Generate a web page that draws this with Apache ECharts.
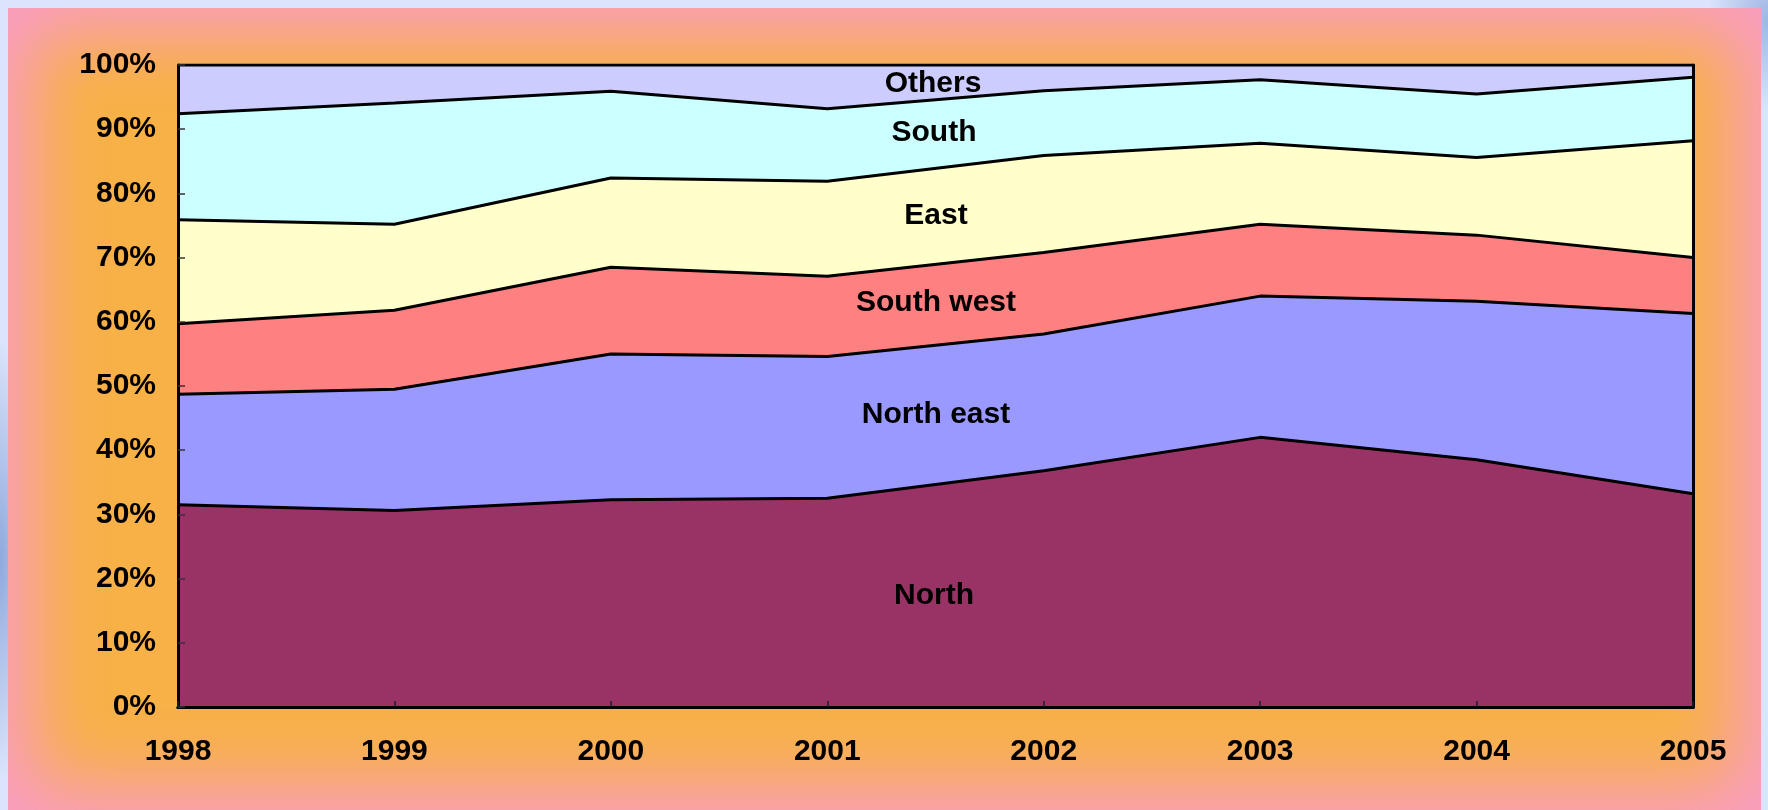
<!DOCTYPE html>
<html>
<head>
<meta charset="utf-8">
<title>Regional share 1998-2005</title>
<script src="https://cdn.jsdelivr.net/npm/echarts@6/dist/echarts.min.js"></script>
<style>
    html, body {
        margin: 0;
        padding: 0;
    }
    body {
        width: 1768px;
        height: 810px;
        overflow: hidden;
        position: relative;
        background:
            radial-gradient(ellipse 40px 220px at 0px 560px, #8fa9dc 0%, rgba(143,169,220,0) 100%),
            radial-gradient(ellipse 60px 90px at 1768px 20px, #9fb6e2 0%, rgba(159,182,226,0) 100%),
            #dbe4fb;
    }
    .frame {
        position: absolute;
        left: 8px;
        top: 8px;
        width: 1753px;
        height: 802px;
        background: #f7b147;
        box-shadow: inset 0 0 70px 24px #f99cc6;
    }
    .chart {
        position: absolute;
        left: 0;
        top: 0;
        width: 1768px;
        height: 810px;
    }
</style>
</head>
<body>
<div class="frame"></div>
<div class="chart" id="main"></div>
<script>
    // data, percent share of each region (stacks up to 100)
    var years = ['1998', '1999', '2000', '2001', '2002', '2003', '2004', '2005'];
    var north = [31.5, 30.6, 32.3, 32.5, 36.8, 42.0, 38.5, 33.2];
    var northEast = [17.2, 18.9, 22.7, 22.1, 21.3, 22.0, 24.7, 28.1];
    var southWest = [11.0, 12.3, 13.5, 12.5, 12.7, 11.2, 10.3, 8.7];
    var east = [16.2, 13.4, 13.9, 14.8, 15.1, 12.6, 12.1, 18.2];
    var south = [16.5, 18.9, 13.5, 11.3, 10.1, 9.9, 9.9, 9.9];
    var others = [7.6, 5.9, 4.1, 6.8, 4.0, 2.3, 4.5, 1.9];

    var fontFamily = '"Liberation Sans", Arial, sans-serif';

    var areaSeries = function (name, color, data) {
        return {
            name: name,
            type: 'line',
            stack: 'total',
            symbol: 'none',
            lineStyle: {
                color: '#000',
                width: 3
            },
            areaStyle: {
                color: color,
                opacity: 1
            },
            data: data
        };
    };

    // text written inside the bands
    var bandLabel = function (text, x, y) {
        return {
            type: 'text',
            z: 100,
            style: {
                text: text,
                x: x,
                y: y,
                fill: '#000',
                font: 'bold 30px ' + fontFamily,
                textAlign: 'center',
                textVerticalAlign: 'middle'
            }
        };
    };

    var chart = echarts.init(document.getElementById('main'));

    chart.setOption({
        backgroundColor: 'transparent',
        animation: false,
        grid: {
            left: 178,
            right: 75,
            top: 65,
            bottom: 103
        },
        xAxis: [
            {
                type: 'category',
                boundaryGap: false,
                data: years,
                z: 10,
                axisLine: {
                    lineStyle: {
                        color: '#000',
                        width: 3
                    }
                },
                axisTick: {
                    inside: true,
                    length: 6,
                    lineStyle: {
                        color: '#222',
                        width: 1.5
                    }
                },
                axisLabel: {
                    margin: 30,
                    color: '#000',
                    fontSize: 30,
                    fontWeight: 'bold',
                    fontFamily: fontFamily
                },
                splitLine: { show: false }
            },
            {
                // top border of the plot
                type: 'category',
                position: 'top',
                boundaryGap: false,
                data: years,
                z: 10,
                axisLine: {
                    lineStyle: {
                        color: '#000',
                        width: 3
                    }
                },
                axisTick: { show: false },
                axisLabel: { show: false }
            }
        ],
        yAxis: [
            {
                type: 'value',
                min: 0,
                max: 100,
                interval: 10,
                z: 10,
                axisLine: {
                    show: true,
                    lineStyle: {
                        color: '#000',
                        width: 3
                    }
                },
                axisTick: {
                    show: true,
                    inside: true,
                    length: 7,
                    lineStyle: {
                        color: '#333',
                        width: 1.5
                    }
                },
                axisLabel: {
                    margin: 22,
                    color: '#000',
                    fontSize: 30,
                    fontWeight: 'bold',
                    fontFamily: fontFamily,
                    formatter: '{value}%'
                },
                splitLine: { show: false }
            },
            {
                // right border of the plot
                type: 'value',
                position: 'right',
                min: 0,
                max: 100,
                z: 10,
                axisLine: {
                    show: true,
                    lineStyle: {
                        color: '#000',
                        width: 3
                    }
                },
                axisTick: { show: false },
                axisLabel: { show: false },
                splitLine: { show: false }
            }
        ],
        series: [
            areaSeries('North', '#993366', north),
            areaSeries('North east', '#9999ff', northEast),
            areaSeries('South west', '#ff8080', southWest),
            areaSeries('East', '#ffffcc', east),
            areaSeries('South', '#ccffff', south),
            areaSeries('Others', '#ccccff', others)
        ],
        graphic: [
            bandLabel('Others', 933, 84),
            bandLabel('South', 934, 133),
            bandLabel('East', 936, 216),
            bandLabel('South west', 936, 303),
            bandLabel('North east', 936, 415),
            bandLabel('North', 934, 596)
        ]
    });
</script>
</body>
</html>
